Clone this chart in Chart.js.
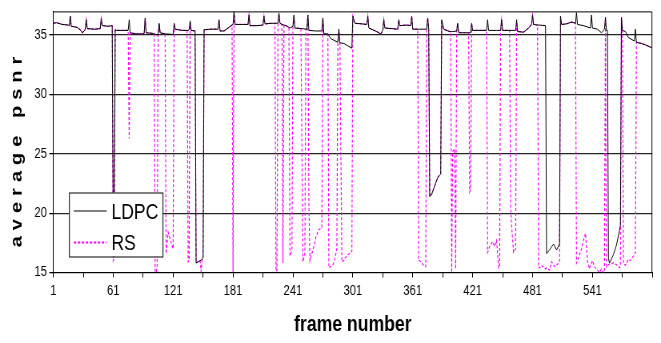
<!DOCTYPE html>
<html>
<head>
<meta charset="utf-8">
<script src="https://cdn.jsdelivr.net/npm/chart.js@4.4.1/dist/chart.umd.min.js"></script>
<style>
html,body{margin:0;padding:0;background:#fff;overflow:hidden}
#wrap{position:relative;width:826px;height:343px;transform:scaleX(0.80024);transform-origin:0 0}
</style>
</head>
<body>
<div id="wrap"><canvas id="psnrChart"></canvas></div>
<script>
// upper curve shared by both codes (frame, psnr)
const topFrames = [1,4,10,16,17,18,19,25,28,30,32,33,34,35,42,48,49,50,56,60,
63,64,70,76,77,78,84,91,92,93,94,100,102,104,106,107,108,113,115,121,122,123,130,135,136,137,138,139,143,
152,158,166,167,168,172,176,180,181,182,183,190,196,197,198,205,211,212,213,220,223,226,227,228,230,232,234,
237,238,240,241,242,243,249,250,254,255,256,257,264,270,271,272,276,279,286,287,288,292,296,300,
301,303,310,315,316,317,325,329,331,332,333,340,346,347,348,355,359,360,361,366,368,375,376,377,
390,392,398,399,401,405,406,407,414,417,419,420,421,428,435,436,437,445,449,450,451,458,464,465,466,472,477,480,481,482,486,488,494,
509,510,515,520,524,525,526,532,539,540,541,546,550,552,553,554,555,556,
570,571,574,577,583,584,585,590,595,600]
const topPsnr = [36.0,36.05,35.9,35.85,35.8,36.6,35.75,35.65,35.45,35.2,35.35,35.5,36.3,35.55,35.5,35.55,36.4,35.8,35.75,35.8,
35.45,35.4,35.4,35.4,36.3,35.2,35.1,35.1,35.15,36.45,35.2,35.15,35.1,35.05,35.0,36.0,35.2,35.1,35.1,35.05,36.0,35.5,35.4,35.4,35.4,35.45,36.2,35.4,35.35,
35.45,35.5,35.5,36.3,35.35,35.35,35.6,35.85,35.9,37.0,35.9,35.9,35.9,36.7,35.8,35.8,35.85,36.6,35.95,36.0,36.0,36.0,36.85,36.0,35.9,35.85,35.8,
35.65,35.6,35.7,35.75,36.7,35.6,35.55,35.55,35.5,35.5,36.7,35.4,35.35,35.35,36.45,35.1,35.1,34.7,34.4,35.5,34.35,34.3,34.1,33.9,
36.6,36.0,35.95,35.9,36.6,35.6,35.3,35.1,35.4,36.3,35.6,35.55,35.5,36.3,35.8,35.85,35.8,36.6,35.5,35.5,35.5,35.5,36.45,35.5,
36.3,35.5,35.3,35.3,35.3,35.35,36.0,35.2,35.2,35.2,35.2,36.0,35.4,35.4,35.4,36.3,35.4,35.4,35.4,36.3,35.4,35.4,35.4,36.3,35.3,35.25,35.6,35.9,36.7,35.9,35.85,35.85,35.8,
36.6,35.9,35.95,36.1,36.0,36.9,35.9,35.8,35.6,36.7,35.6,35.5,35.2,35.4,35.5,36.5,35.4,35.4,
36.5,35.4,35.3,34.8,34.5,35.5,34.4,34.3,34.15,33.95]

// LDPC losses
const ldpcLowFrames = [61,62,144,146,148,150,151,378,380,383,386,388,389,495,498,502,505,508,557,558,562,565,568,569]
const ldpcLowPsnr = [19.0,19.3,15.8,15.9,16.0,16.1,16.3,21.4,21.6,22.3,23.0,23.2,23.3,16.6,16.9,17.4,16.9,17.4,16.2,15.8,16.5,17.3,18.5,19.0]

// RS losses
const rsLowFrames = [61,62,77,103,104,105,114,115,116,118,120,121,136,137,144,146,148,149,150,151,181,224,225,231,238,239,240,
250,251,253,257,258,260,263,264,267,270,277,279,281,283,285,290,292,293,296,299,300,
367,368,370,372,374,378,380,383,386,388,389,400,401,403,404,418,419,436,437,438,441,443,445,447,448,459,460,462,464,
487,488,490,494,495,498,500,503,506,508,525,526,528,530,532,534,536,538,539,540,541,543,546,548,550,552,553,
555,556,558,562,566,568,569,572,574,577,579,583,584]
const rsLowPsnr = [16.0,16.2,26.3,15.1,15.0,15.5,16.6,17.5,18.4,17.8,17.2,17.0,15.9,16.0,15.8,15.9,16.0,15.1,16.1,16.3,15.0,15.1,15.2,15.8,16.4,16.6,16.9,
25.8,15.9,16.6,21.0,16.0,16.6,17.5,18.0,18.6,18.8,15.4,15.5,15.6,16.2,17.0,15.9,16.0,16.2,16.5,16.7,16.8,
16.0,16.0,15.8,15.6,15.5,21.4,21.6,22.3,23.0,23.2,23.3,15.0,25.2,25.4,15.3,21.8,22.0,16.7,16.9,17.2,17.6,17.2,17.7,15.4,15.5,20.4,18.9,16.7,17.0,
15.4,15.4,15.6,15.3,15.4,15.2,15.9,15.5,15.7,15.9,15.8,16.0,16.5,17.0,17.7,18.3,16.0,15.3,15.6,15.8,16.0,15.5,15.2,15.0,15.3,15.0,15.0,
15.5,15.6,15.7,15.8,15.6,15.4,15.5,15.8,15.6,16.1,16.0,16.5,16.7]

const frameTicks = [1,31,61,91,121,151,181,211,241,271,301,331,361,391,421,451,481,511,541,571,601]
const frameLabels = ['1','','61','','121','','181','','241','','301','','361','','421','','481','','541','','']
const psnrTicks = [15,20,25,30,35]

function buildSeries(lowFrames,lowPsnr){
let m = new Map()
topFrames.forEach((f,i)=>m.set(f,topPsnr[i]))
lowFrames.forEach((f,i)=>m.set(f,lowPsnr[i]))
return [...m.entries()].sort((a,b)=>a[0]-b[0]).map(p=>({x:p[0],y:p[1]}))
}

const FONT = "'Liberation Sans', Arial, sans-serif"

const decorPlugin = {
id:'decor',
afterDatasetsDraw(chart){
const ctx = chart.ctx
const a = chart.chartArea
ctx.save()
// plot frame top and right
ctx.strokeStyle = '#000'
ctx.lineWidth = 1
ctx.beginPath()
ctx.moveTo(a.left,a.top+0.5)
ctx.lineTo(a.right-0.5,a.top+0.5)
ctx.lineTo(a.right-0.5,a.bottom)
ctx.stroke()

// legend box
let bx = a.left+19.6, by = 192.5, bw = 117, bh = 64
ctx.fillStyle = '#fff'
ctx.fillRect(bx,by,bw,bh)
ctx.strokeStyle = '#000'
ctx.strokeRect(bx+0.5,by+0.5,bw,bh)

ctx.beginPath()
ctx.strokeStyle = '#000'
ctx.lineWidth = 1.2
ctx.moveTo(bx+6,211)
ctx.lineTo(bx+47,211)
ctx.stroke()

ctx.beginPath()
ctx.strokeStyle = '#ff00ff'
ctx.lineWidth = 2.2
ctx.setLineDash([3,2])
ctx.moveTo(bx+6,242.5)
ctx.lineTo(bx+47,242.5)
ctx.stroke()
ctx.setLineDash([])

ctx.fillStyle = '#000'
ctx.font = '22px '+FONT
ctx.textAlign = 'left'
ctx.textBaseline = 'alphabetic'
ctx.fillText('LDPC',bx+53,218.5)
ctx.fillText('RS',bx+53,250)
ctx.restore()
},
afterDraw(chart){
const ctx = chart.ctx
const a = chart.chartArea
ctx.save()
ctx.fillStyle = '#000'
ctx.textAlign = 'center'
ctx.textBaseline = 'middle'
ctx.font = 'bold 22px '+FONT
ctx.fillText('frame number',(a.left+a.right)/2,325)
ctx.translate(21,149)
ctx.rotate(-Math.PI/2)
ctx.font = 'bold 20px '+FONT
ctx.letterSpacing = '6px'
ctx.fillText('average psnr',0,0)
ctx.restore()
}
}

new Chart(document.getElementById('psnrChart'),{
type:'line',
data:{
datasets:[{
label:'LDPC',
data:buildSeries(ldpcLowFrames,ldpcLowPsnr),
borderColor:'#000',
borderWidth:1,
pointRadius:0,
tension:0,
order:0
},{
label:'RS',
data:buildSeries(rsLowFrames,rsLowPsnr),
borderColor:'#ff00ff',
borderWidth:1.2,
borderDash:[3,2],
pointRadius:0,
tension:0,
order:1
}]
},
options:{
responsive:true,
maintainAspectRatio:false,
animation:false,
layout:{padding:{top:5,right:10.8,left:0,bottom:0}},
plugins:{legend:{display:false},tooltip:{enabled:false}},
scales:{
x:{
type:'linear',
min:1,
max:601,
afterBuildTicks(scale){ scale.ticks = frameTicks.map(v=>({value:v})) },
afterFit(scale){ scale.height = 70.5 },
ticks:{
autoSkip:false,
maxRotation:0,
padding:5,
color:'#000',
font:{family:FONT,size:14},
callback:(v,i)=>frameLabels[i]
},
grid:{drawOnChartArea:false,drawTicks:true,tickLength:5,color:'#000'},
border:{color:'#000',width:1}
},
y:{
min:15,
max:37,
afterBuildTicks(scale){ scale.ticks = psnrTicks.map(v=>({value:v})) },
afterFit(scale){ scale.width = 66.6 },
ticks:{
padding:3,
color:'#000',
font:{family:FONT,size:14}
},
grid:{color:'#222',lineWidth:1.3,tickLength:5,tickColor:'#000'},
border:{color:'#000',width:1}
}
}
},
plugins:[decorPlugin]
})
</script>
</body>
</html>
